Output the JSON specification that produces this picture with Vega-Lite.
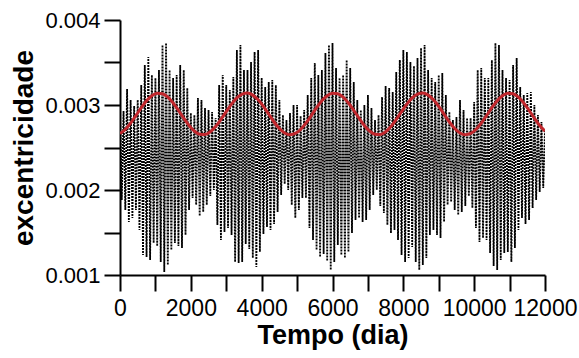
{
  "$schema": "https://vega.github.io/schema/vega-lite/v6.json",
  "width": 425,
  "height": 255,
  "autosize": {"type": "none"},
  "padding": {"left": 120, "top": 20, "right": 34, "bottom": 83},
  "background": "white",
  "config": {"view": {"stroke": null}},
  "datasets": {
    "ecc": [
      {"t":0,"e":0.002906},{"t":50,"e":0.001882},{"t":100,"e":0.002929},{"t":150,"e":0.001765},{"t":200,"e":0.003188},{"t":250,"e":0.001624},{"t":300,"e":0.003059},{"t":350,"e":0.001671},{"t":400,"e":0.002988},{"t":450,"e":0.001765},
      {"t":500,"e":0.003059},{"t":550,"e":0.001529},{"t":600,"e":0.003235},{"t":650,"e":0.001235},{"t":700,"e":0.003471},{"t":750,"e":0.001212},{"t":800,"e":0.003565},{"t":850,"e":0.001176},{"t":900,"e":0.003353},{"t":950,"e":0.001376},
      {"t":1000,"e":0.003318},{"t":1050,"e":0.001341},{"t":1100,"e":0.003412},{"t":1150,"e":0.001153},{"t":1200,"e":0.003706},{"t":1250,"e":0.001035},{"t":1300,"e":0.003729},{"t":1350,"e":0.001118},{"t":1400,"e":0.003412},{"t":1450,"e":0.001294},
      {"t":1500,"e":0.003318},{"t":1550,"e":0.001376},{"t":1600,"e":0.003353},{"t":1650,"e":0.001341},{"t":1700,"e":0.003471},{"t":1750,"e":0.001318},{"t":1800,"e":0.003412},{"t":1850,"e":0.001471},{"t":1900,"e":0.0032},{"t":1950,"e":0.001765},
      {"t":2000,"e":0.002906},{"t":2050,"e":0.001906},{"t":2100,"e":0.002882},{"t":2150,"e":0.001824},{"t":2200,"e":0.003082},{"t":2250,"e":0.001694},{"t":2300,"e":0.003059},{"t":2350,"e":0.001741},{"t":2400,"e":0.002965},{"t":2450,"e":0.001824},
      {"t":2500,"e":0.002941},{"t":2550,"e":0.001929},{"t":2600,"e":0.002918},{"t":2650,"e":0.002},{"t":2700,"e":0.002847},{"t":2750,"e":0.001588},{"t":2800,"e":0.003235},{"t":2850,"e":0.001412},{"t":2900,"e":0.003353},{"t":2950,"e":0.001506},
      {"t":3000,"e":0.003235},{"t":3050,"e":0.001553},{"t":3100,"e":0.003176},{"t":3150,"e":0.001471},{"t":3200,"e":0.003329},{"t":3250,"e":0.001153},{"t":3300,"e":0.003647},{"t":3350,"e":0.001141},{"t":3400,"e":0.003706},{"t":3450,"e":0.001153},
      {"t":3500,"e":0.003412},{"t":3550,"e":0.001365},{"t":3600,"e":0.003412},{"t":3650,"e":0.001306},{"t":3700,"e":0.003506},{"t":3750,"e":0.0012},{"t":3800,"e":0.003624},{"t":3850,"e":0.001094},{"t":3900,"e":0.003647},{"t":3950,"e":0.001271},
      {"t":4000,"e":0.003318},{"t":4050,"e":0.001482},{"t":4100,"e":0.003212},{"t":4150,"e":0.001565},{"t":4200,"e":0.003271},{"t":4250,"e":0.001529},{"t":4300,"e":0.003294},{"t":4350,"e":0.0016},{"t":4400,"e":0.003235},{"t":4450,"e":0.001741},
      {"t":4500,"e":0.003059},{"t":4550,"e":0.001941},{"t":4600,"e":0.002882},{"t":4650,"e":0.002071},{"t":4700,"e":0.002824},{"t":4750,"e":0.002},{"t":4800,"e":0.002906},{"t":4850,"e":0.001824},{"t":4900,"e":0.003},{"t":4950,"e":0.001671},
      {"t":5000,"e":0.003},{"t":5050,"e":0.001765},{"t":5100,"e":0.002871},{"t":5150,"e":0.001906},{"t":5200,"e":0.002941},{"t":5250,"e":0.001906},{"t":5300,"e":0.003118},{"t":5350,"e":0.001553},{"t":5400,"e":0.003318},{"t":5450,"e":0.001412},
      {"t":5500,"e":0.003494},{"t":5550,"e":0.001294},{"t":5600,"e":0.003353},{"t":5650,"e":0.001212},{"t":5700,"e":0.003412},{"t":5750,"e":0.001247},{"t":5800,"e":0.003612},{"t":5850,"e":0.001165},{"t":5900,"e":0.003706},{"t":5950,"e":0.001059},
      {"t":6000,"e":0.003729},{"t":6050,"e":0.001153},{"t":6100,"e":0.003435},{"t":6150,"e":0.001353},{"t":6200,"e":0.003318},{"t":6250,"e":0.001235},{"t":6300,"e":0.003353},{"t":6350,"e":0.0012},{"t":6400,"e":0.003529},{"t":6450,"e":0.001271},
      {"t":6500,"e":0.003435},{"t":6550,"e":0.001494},{"t":6600,"e":0.003271},{"t":6650,"e":0.001647},{"t":6700,"e":0.003059},{"t":6750,"e":0.001671},{"t":6800,"e":0.002941},{"t":6850,"e":0.001624},{"t":6900,"e":0.003},{"t":6950,"e":0.001647},
      {"t":7000,"e":0.003118},{"t":7050,"e":0.001765},{"t":7100,"e":0.002965},{"t":7150,"e":0.001941},{"t":7200,"e":0.002824},{"t":7250,"e":0.002},{"t":7300,"e":0.002882},{"t":7350,"e":0.001812},{"t":7400,"e":0.003094},{"t":7450,"e":0.001729},
      {"t":7500,"e":0.003224},{"t":7550,"e":0.001588},{"t":7600,"e":0.0032},{"t":7650,"e":0.001494},{"t":7700,"e":0.003153},{"t":7750,"e":0.001529},{"t":7800,"e":0.003388},{"t":7850,"e":0.001412},{"t":7900,"e":0.003529},{"t":7950,"e":0.001235},
      {"t":8000,"e":0.003647},{"t":8050,"e":0.001153},{"t":8100,"e":0.003624},{"t":8150,"e":0.0012},{"t":8200,"e":0.003506},{"t":8250,"e":0.001329},{"t":8300,"e":0.003459},{"t":8350,"e":0.001153},{"t":8400,"e":0.003553},{"t":8450,"e":0.001059},
      {"t":8500,"e":0.003671},{"t":8550,"e":0.001118},{"t":8600,"e":0.003706},{"t":8650,"e":0.0012},{"t":8700,"e":0.003412},{"t":8750,"e":0.001471},{"t":8800,"e":0.003318},{"t":8850,"e":0.001529},{"t":8900,"e":0.003271},{"t":8950,"e":0.001471},
      {"t":9000,"e":0.003353},{"t":9050,"e":0.001435},{"t":9100,"e":0.003376},{"t":9150,"e":0.001624},{"t":9200,"e":0.003118},{"t":9250,"e":0.001824},{"t":9300,"e":0.002918},{"t":9350,"e":0.001859},{"t":9400,"e":0.002824},{"t":9450,"e":0.001765},
      {"t":9500,"e":0.002859},{"t":9550,"e":0.001706},{"t":9600,"e":0.003059},{"t":9650,"e":0.001741},{"t":9700,"e":0.002941},{"t":9750,"e":0.001812},{"t":9800,"e":0.002847},{"t":9850,"e":0.001929},{"t":9900,"e":0.002847},{"t":9950,"e":0.001788},
      {"t":10000,"e":0.003035},{"t":10050,"e":0.001553},{"t":10100,"e":0.003412},{"t":10150,"e":0.001388},{"t":10200,"e":0.003435},{"t":10250,"e":0.001435},{"t":10300,"e":0.003318},{"t":10350,"e":0.001412},{"t":10400,"e":0.003318},{"t":10450,"e":0.001259},
      {"t":10500,"e":0.003529},{"t":10550,"e":0.001106},{"t":10600,"e":0.003729},{"t":10650,"e":0.001059},{"t":10700,"e":0.003706},{"t":10750,"e":0.001176},{"t":10800,"e":0.003412},{"t":10850,"e":0.001259},{"t":10900,"e":0.003318},{"t":10950,"e":0.001271},
      {"t":11000,"e":0.003294},{"t":11050,"e":0.001153},{"t":11100,"e":0.003471},{"t":11150,"e":0.001318},{"t":11200,"e":0.003553},{"t":11250,"e":0.001529},{"t":11300,"e":0.003212},{"t":11350,"e":0.001671},{"t":11400,"e":0.003118},{"t":11450,"e":0.0016},
      {"t":11500,"e":0.003141},{"t":11550,"e":0.001647},{"t":11600,"e":0.003153},{"t":11650,"e":0.001788},{"t":11700,"e":0.003},{"t":11750,"e":0.001882},{"t":11800,"e":0.002882},{"t":11850,"e":0.001976},{"t":11900,"e":0.0028},{"t":11950,"e":0.002024},
      {"t":12000,"e":0.002706}
    ],
    "mean": [
      {"t":0,"e":0.002665},{"t":150,"e":0.002712},{"t":300,"e":0.002786},{"t":450,"e":0.002876},{"t":600,"e":0.002968},{"t":750,"e":0.00305},{"t":900,"e":0.003109},{"t":1050,"e":0.003138},{"t":1200,"e":0.003132},{"t":1350,"e":0.003092},
      {"t":1500,"e":0.003024},{"t":1650,"e":0.002938},{"t":1800,"e":0.002845},{"t":1950,"e":0.002759},{"t":2100,"e":0.002693},{"t":2250,"e":0.002656},{"t":2400,"e":0.002653},{"t":2550,"e":0.002685},{"t":2700,"e":0.002747},{"t":2850,"e":0.00283},
      {"t":3000,"e":0.002922},{"t":3150,"e":0.003011},{"t":3300,"e":0.003083},{"t":3450,"e":0.003128},{"t":3600,"e":0.00314},{"t":3750,"e":0.003116},{"t":3900,"e":0.003061},{"t":4050,"e":0.002983},{"t":4200,"e":0.002891},{"t":4350,"e":0.0028},
      {"t":4500,"e":0.002723},{"t":4650,"e":0.002671},{"t":4800,"e":0.00265},{"t":4950,"e":0.002665},{"t":5100,"e":0.002712},{"t":5250,"e":0.002786},{"t":5400,"e":0.002876},{"t":5550,"e":0.002968},{"t":5700,"e":0.00305},{"t":5850,"e":0.003109},
      {"t":6000,"e":0.003138},{"t":6150,"e":0.003132},{"t":6300,"e":0.003092},{"t":6450,"e":0.003024},{"t":6600,"e":0.002938},{"t":6750,"e":0.002845},{"t":6900,"e":0.002759},{"t":7050,"e":0.002693},{"t":7200,"e":0.002656},{"t":7350,"e":0.002653},
      {"t":7500,"e":0.002685},{"t":7650,"e":0.002747},{"t":7800,"e":0.00283},{"t":7950,"e":0.002922},{"t":8100,"e":0.003011},{"t":8250,"e":0.003083},{"t":8400,"e":0.003128},{"t":8550,"e":0.00314},{"t":8700,"e":0.003116},{"t":8850,"e":0.003061},
      {"t":9000,"e":0.002983},{"t":9150,"e":0.002891},{"t":9300,"e":0.0028},{"t":9450,"e":0.002723},{"t":9600,"e":0.002671},{"t":9750,"e":0.00265},{"t":9900,"e":0.002665},{"t":10050,"e":0.002712},{"t":10200,"e":0.002786},{"t":10350,"e":0.002876},
      {"t":10500,"e":0.002968},{"t":10650,"e":0.00305},{"t":10800,"e":0.003109},{"t":10950,"e":0.003138},{"t":11100,"e":0.003132},{"t":11250,"e":0.003092},{"t":11400,"e":0.003024},{"t":11550,"e":0.002938},{"t":11700,"e":0.002845},{"t":11850,"e":0.002759},
      {"t":12000,"e":0.002693}
    ]
  },
  "encoding": {
    "x": {
      "field": "t", "type": "quantitative",
      "scale": {"domain": [0, 12000], "nice": false, "zero": false},
      "axis": {
        "title": "Tempo (dia)",
        "values": [0,1000,2000,3000,4000,5000,6000,7000,8000,9000,10000,11000,12000],
        "labelExpr": "datum.value % 2000 === 0 ? format(datum.value, 'd') : ''",
        "grid": false,
        "domainColor": "black", "domainWidth": 2,
        "tickColor": "black", "tickWidth": 2, "tickSize": 16,
        "labelFont": "Liberation Sans", "labelFontSize": 23, "labelColor": "black", "labelPadding": 6,
        "labelFlush": false, "labelOverlap": false,
        "titleFont": "Liberation Sans", "titleFontSize": 27, "titleFontWeight": "bold", "titleColor": "black", "titlePadding": 2
      }
    },
    "y": {
      "field": "e", "type": "quantitative",
      "scale": {"domain": [0.001, 0.004], "nice": false, "zero": false},
      "axis": {
        "title": "excentricidade",
        "values": [0.001, 0.0015, 0.002, 0.0025, 0.003, 0.0035, 0.004],
        "labelExpr": "abs(datum.value * 1000 - round(datum.value * 1000)) < 0.01 ? format(datum.value, '.3f') : ''",
        "grid": false,
        "domainColor": "black", "domainWidth": 2,
        "tickColor": "black", "tickWidth": 2, "tickSize": 16,
        "labelFont": "Liberation Sans", "labelFontSize": 22, "labelColor": "black", "labelPadding": 4,
        "labelFlush": false, "labelOverlap": false,
        "titleFont": "Liberation Sans", "titleFontSize": 28, "titleFontWeight": "bold", "titleColor": "black", "titlePadding": 6
      }
    }
  },
  "layer": [
    {
      "data": {"name": "ecc"},
      "mark": {"type": "line", "color": "black", "strokeWidth": 1.8, "strokeDash": [2, 1], "clip": true}
    },
    {
      "data": {"name": "mean"},
      "mark": {"type": "line", "color": "#c1272d", "strokeWidth": 3, "interpolate": "monotone", "clip": true}
    }
  ]
}
